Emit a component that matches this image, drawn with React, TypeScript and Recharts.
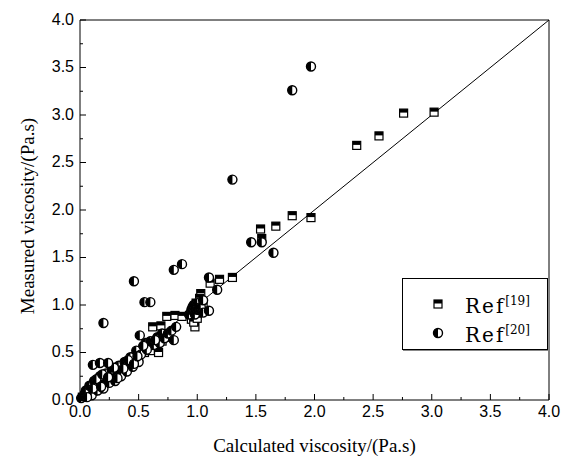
import React from "react";
import {
  ScatterChart,
  Scatter,
  XAxis,
  YAxis,
  ReferenceLine,
  ReferenceArea,
  Legend,
} from "recharts";

const ref19Points: [number, number][] = [
  [0.02, 0.03], [0.04, 0.05], [0.06, 0.06], [0.08, 0.09], [0.1, 0.1],
  [0.12, 0.11], [0.15, 0.14], [0.18, 0.17], [0.2, 0.2], [0.22, 0.19],
  [0.25, 0.23], [0.28, 0.27], [0.3, 0.28], [0.33, 0.3], [0.35, 0.33],
  [0.38, 0.36], [0.4, 0.38], [0.42, 0.35], [0.45, 0.4], [0.48, 0.42],
  [0.5, 0.45], [0.55, 0.5], [0.58, 0.55], [0.6, 0.52], [0.65, 0.6],
  [0.67, 0.5], [0.7, 0.62], [0.72, 0.66], [0.75, 0.7], [0.62, 0.77],
  [0.69, 0.78], [0.74, 0.88], [0.81, 0.89], [0.87, 0.88], [0.98, 0.77],
  [0.95, 0.85], [1.0, 0.9], [1.02, 0.95], [1.03, 1.12], [1.05, 1.0],
  [0.97, 0.82], [1.0, 0.86], [0.99, 1.02], [1.02, 1.07],
  [1.11, 1.23], [1.19, 1.27], [1.3, 1.29], [1.54, 1.8], [1.55, 1.7],
  [1.67, 1.83], [1.81, 1.94], [1.97, 1.92], [2.36, 2.68], [2.55, 2.78],
  [2.76, 3.02], [3.02, 3.03],
];

const ref20Points: [number, number][] = [
  [0.01, 0.02], [0.03, 0.04], [0.05, 0.07], [0.07, 0.06], [0.09, 0.12],
  [0.1, 0.08], [0.12, 0.15], [0.13, 0.1], [0.15, 0.18], [0.16, 0.13],
  [0.18, 0.22], [0.2, 0.16], [0.21, 0.25], [0.23, 0.2], [0.25, 0.28],
  [0.27, 0.22], [0.28, 0.3], [0.3, 0.25], [0.32, 0.32], [0.34, 0.28],
  [0.36, 0.35], [0.38, 0.3], [0.4, 0.4], [0.42, 0.37], [0.44, 0.43],
  [0.47, 0.47], [0.5, 0.5], [0.54, 0.56],
  [0.05, 0.1], [0.08, 0.15], [0.1, 0.05], [0.12, 0.2], [0.15, 0.1],
  [0.17, 0.25], [0.2, 0.12], [0.22, 0.28], [0.25, 0.18], [0.27, 0.32],
  [0.3, 0.2], [0.33, 0.36], [0.35, 0.25], [0.38, 0.4], [0.4, 0.3],
  [0.43, 0.45], [0.45, 0.35], [0.48, 0.52], [0.5, 0.4], [0.52, 0.48],
  [0.56, 0.6], [0.6, 0.62], [0.63, 0.58], [0.66, 0.66], [0.68, 0.6],
  [0.7, 0.7],
  [0.06, 0.03], [0.11, 0.12], [0.14, 0.22], [0.18, 0.14], [0.19, 0.27],
  [0.24, 0.24], [0.29, 0.34], [0.32, 0.23], [0.37, 0.33], [0.41, 0.42],
  [0.46, 0.38], [0.49, 0.46], [0.57, 0.53], [0.64, 0.63],
  [0.11, 0.37], [0.17, 0.39], [0.24, 0.39], [0.2, 0.81], [0.46, 1.25],
  [0.51, 0.68], [0.54, 0.57], [0.55, 1.03], [0.6, 1.03], [0.72, 0.65],
  [0.75, 0.7], [0.78, 0.73], [0.8, 0.63], [0.82, 0.77], [0.8, 1.37],
  [0.87, 1.43], [0.93, 0.9], [0.95, 0.95], [0.96, 0.98], [0.97, 1.0],
  [0.98, 0.9], [1.0, 1.02], [1.0, 0.95], [1.02, 0.95], [1.03, 0.98],
  [1.05, 0.92], [1.05, 1.05], [1.1, 0.94], [1.1, 1.29], [1.17, 1.16],
  [1.3, 2.32], [1.46, 1.66], [1.55, 1.66], [1.65, 1.55], [1.81, 3.26],
  [1.97, 3.51],
];

const axisTicks = [
  0, 0.25, 0.5, 0.75, 1, 1.25, 1.5, 1.75, 2, 2.25, 2.5, 2.75, 3, 3.25, 3.5,
  3.75, 4,
];

const seriesNames = ["19", "20"];

const toRows = (pts: [number, number][]) => pts.map(([x, y]) => ({ x, y }));

const TICK_FONT = "'Liberation Sans', Arial, sans-serif";
const TITLE_FONT = "'Liberation Serif', 'Times New Roman', serif";

const isMajor = (v: number) => Math.abs(v * 2 - Math.round(v * 2)) < 1e-6;

// recharts passes its own `size`, so the marker dimensions use other names
function HalfSquare({ cx, cy }: { cx?: number; cy?: number }) {
  if (cx == null || cy == null) return null;
  const side = 8;
  const h = side / 2;
  return (
    <g>
      <rect x={cx - h} y={cy - h} width={side} height={side} fill="#fff" stroke="#000" strokeWidth={1.2} />
      <rect x={cx - h} y={cy - h} width={side} height={h - 0.5} fill="#000" />
    </g>
  );
}

function HalfCircle({ cx, cy }: { cx?: number; cy?: number }) {
  if (cx == null || cy == null) return null;
  const rad = 4.5;
  return (
    <g>
      <circle cx={cx} cy={cy} r={rad} fill="#fff" stroke="#000" strokeWidth={1.4} />
      <path d={`M${cx},${cy - rad} A${rad},${rad} 0 0 0 ${cx},${cy + rad} Z`} fill="#000" />
    </g>
  );
}

function XTick(props: any) {
  const { x, y, payload } = props;
  const axisY = y - 5;
  const major = isMajor(payload.value);
  return (
    <g>
      <line x1={x} x2={x} y1={axisY} y2={axisY - (major ? 6 : 3)} stroke="#000" />
      {major && (
        <text x={x} y={y} dy="0.75em" textAnchor="middle" fontSize={16} fontFamily={TICK_FONT} fill="#000">
          {payload.value.toFixed(1)}
        </text>
      )}
    </g>
  );
}

function YTick(props: any) {
  const { x, y, payload } = props;
  const axisX = x + 6;
  const major = isMajor(payload.value);
  return (
    <g>
      <line x1={axisX} x2={axisX + (major ? 6 : 3)} y1={y} y2={y} stroke="#000" />
      {major && (
        <text x={x} y={y} dy="0.3em" textAnchor="end" fontSize={16} fontFamily={TICK_FONT} fill="#000">
          {payload.value.toFixed(1)}
        </text>
      )}
    </g>
  );
}

function LegendBox() {
  return (
    <div
      style={{
        border: "1px solid #000",
        boxShadow: "1px 1px 0 #888",
        background: "#fff",
        height: 72,
        boxSizing: "border-box",
        fontFamily: "'DejaVu Serif', serif",
        color: "#000",
      }}
    >
      {seriesNames.map((n, i) => (
        <div key={n} style={{ display: "flex", alignItems: "center", height: 29, marginTop: i === 0 ? 10 : 0 }}>
          <svg width={62} height={20}>
            {i === 0 ? <HalfSquare cx={35} cy={10} /> : <HalfCircle cx={35} cy={10} />}
          </svg>
          <span style={{ fontSize: 20, lineHeight: "20px", letterSpacing: 2 }}>
            Ref<sup style={{ fontSize: 12, letterSpacing: 0 }}>[{n}]</sup>
          </span>
        </div>
      ))}
    </div>
  );
}

export default function App() {
  return (
    <div style={{ position: "absolute", left: 0, top: 0, width: 564, height: 464, background: "#fff" }}>
      <ScatterChart width={564} height={464} margin={{ top: 20, right: 15, left: 0, bottom: 0 }}>
        <XAxis
          type="number"
          dataKey="x"
          domain={[0, 4]}
          ticks={axisTicks}
          interval={0}
          height={64}
          axisLine={false}
          tickLine={false}
          tickSize={0}
          tickMargin={5}
          tick={<XTick />}
          label={{
            value: "Calculated viscosity/(Pa.s)",
            position: "insideBottom",
            offset: 12,
            style: { fontFamily: TITLE_FONT, fontSize: 19, fill: "#000" },
          }}
        />
        <YAxis
          type="number"
          dataKey="y"
          domain={[0, 4]}
          ticks={axisTicks}
          interval={0}
          width={80}
          axisLine={false}
          tickLine={false}
          tickSize={0}
          tickMargin={6}
          tick={<YTick />}
          label={({ viewBox }: any) => {
            const cx = viewBox.x + 27;
            const cy = viewBox.y + viewBox.height / 2 + 6;
            return (
              <text
                x={cx}
                y={cy}
                transform={`rotate(-90, ${cx}, ${cy})`}
                textAnchor="middle"
                dominantBaseline="central"
                fontFamily={TITLE_FONT}
                fontSize={19}
                fill="#000"
              >
                Measured viscosity/(Pa.s)
              </text>
            );
          }}
        />
        <ReferenceArea x1={0} x2={4} y1={0} y2={4} fill="none" stroke="#000" strokeWidth={1} ifOverflow="visible" />
        <ReferenceLine segment={[{ x: 0, y: 0 }, { x: 4, y: 4 }]} stroke="#000" strokeWidth={1} />
        <Scatter name="Ref19" data={toRows(ref19Points)} shape={<HalfSquare />} isAnimationActive={false} />
        <Scatter name="Ref20" data={toRows(ref20Points)} shape={<HalfCircle />} isAnimationActive={false} />
        <Legend
          layout="horizontal"
          verticalAlign="middle"
          align="center"
          content={<LegendBox />}
          wrapperStyle={{ left: 402, top: 278, width: 146, height: 72 }}
        />
      </ScatterChart>
    </div>
  );
}
